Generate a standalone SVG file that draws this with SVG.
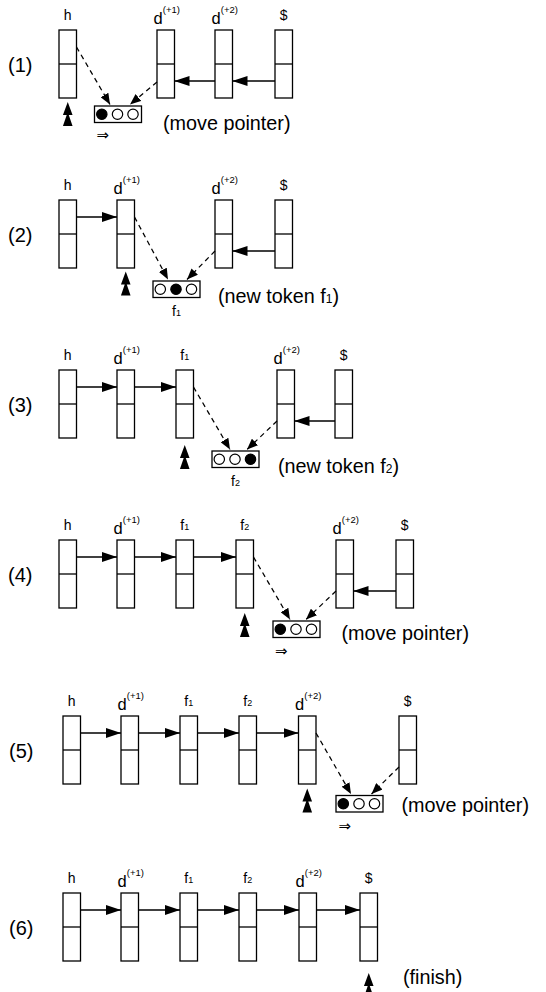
<svg xmlns="http://www.w3.org/2000/svg" width="546" height="992" viewBox="0 0 546 992">
<style>
.box{fill:#fff;stroke:#000;stroke-width:1.3}
.div{stroke:#000;stroke-width:1.3}
text{font-family:"Liberation Sans",Arial,sans-serif;fill:#000}
.lbl{font-size:14px}
.num{font-size:20px}
.ann{font-size:19.8px}
.arr{stroke:#000;stroke-width:1.3;fill:none;marker-end:url(#ah)}
.dash{stroke:#000;stroke-width:1.25;fill:none;stroke-dasharray:5 4;marker-end:url(#ahd)}
.tok{fill:#fff;stroke:#000;stroke-width:1.3}
.c{fill:#fff;stroke:#000;stroke-width:1.2}
.cf{fill:#000;stroke:#000;stroke-width:1.2}
.dbl{font-family:"DejaVu Sans",sans-serif;font-size:15px}
</style>
<defs>
<marker id="ah" markerUnits="userSpaceOnUse" markerWidth="15" markerHeight="10" refX="15" refY="5" orient="auto"><path d="M0,0 L15,5 L0,10 Z" fill="#000"/></marker>
<marker id="ahd" markerUnits="userSpaceOnUse" markerWidth="11" markerHeight="9" refX="11" refY="4.5" orient="auto"><path d="M0,0 L11,4.5 L0,9 Z" fill="#000"/></marker>
<path id="ptr" d="M0,0 L4.8,13 L-4.8,13 Z M0,10 L4.8,24 L-4.8,24 Z" fill="#000"/>
</defs>

<!-- Panel 1 -->
<g id="p1">
<text class="num" x="8" y="72">(1)</text>
<g id="p1-h"><rect class="box" x="59" y="30" width="17.5" height="68"/><line class="div" x1="59" y1="64" x2="76.5" y2="64"/><text class="lbl" x="67.75" y="20" text-anchor="middle">h</text></g>
<g id="p1-d1"><rect class="box" x="157" y="30" width="17.5" height="68"/><line class="div" x1="157" y1="64" x2="174.5" y2="64"/><text x="166.75" y="23.5" text-anchor="middle"><tspan font-size="16.5">d</tspan><tspan font-size="9.5" dy="-11">(+1)</tspan></text></g>
<g id="p1-d2"><rect class="box" x="215" y="30" width="17.5" height="68"/><line class="div" x1="215" y1="64" x2="232.5" y2="64"/><text x="224.75" y="23.5" text-anchor="middle"><tspan font-size="16.5">d</tspan><tspan font-size="9.5" dy="-11">(+2)</tspan></text></g>
<g id="p1-end"><rect class="box" x="275" y="30" width="17.5" height="68"/><line class="div" x1="275" y1="64" x2="292.5" y2="64"/><text class="lbl" x="283.75" y="20" text-anchor="middle">$</text></g>
<g id="p1-token"><rect class="tok" x="94.5" y="106" width="47" height="16.5"/><circle class="cf" cx="101.8" cy="114.25" r="5.2"/><circle class="c" cx="117.5" cy="114.25" r="5.2"/><circle class="c" cx="133" cy="114.25" r="5.2"/><text class="dbl" x="96.5" y="140">⇒</text></g>
<use href="#ptr" x="67.75" y="102"/>
<text class="ann" x="163" y="129.5">(move pointer)</text>
</g>

<!-- Panel 2 -->
<g id="p2">
<text class="num" x="8" y="242">(2)</text>
<g id="p2-h"><rect class="box" x="59" y="200" width="17.5" height="68"/><line class="div" x1="59" y1="234" x2="76.5" y2="234"/><text class="lbl" x="67.75" y="190" text-anchor="middle">h</text></g>
<g id="p2-d1"><rect class="box" x="117" y="200" width="17.5" height="68"/><line class="div" x1="117" y1="234" x2="134.5" y2="234"/><text x="126.75" y="193.5" text-anchor="middle"><tspan font-size="16.5">d</tspan><tspan font-size="9.5" dy="-11">(+1)</tspan></text></g>
<g id="p2-d2"><rect class="box" x="215" y="200" width="17.5" height="68"/><line class="div" x1="215" y1="234" x2="232.5" y2="234"/><text x="224.75" y="193.5" text-anchor="middle"><tspan font-size="16.5">d</tspan><tspan font-size="9.5" dy="-11">(+2)</tspan></text></g>
<g id="p2-end"><rect class="box" x="275" y="200" width="17.5" height="68"/><line class="div" x1="275" y1="234" x2="292.5" y2="234"/><text class="lbl" x="283.75" y="190" text-anchor="middle">$</text></g>
<g id="p2-token"><rect class="tok" x="153" y="281" width="47" height="16.5"/><circle class="c" cx="160.3" cy="289.25" r="5.2"/><circle class="cf" cx="176" cy="289.25" r="5.2"/><circle class="c" cx="191.5" cy="289.25" r="5.2"/><text class="lbl" x="176.5" y="316" text-anchor="middle">f<tspan font-size="9">1</tspan></text></g>
<use href="#ptr" x="125.75" y="271.5"/>
<text class="ann" x="218" y="302.5">(new token f<tspan font-size="12">1</tspan>)</text>
</g>

<!-- Panel 3 -->
<g id="p3">
<text class="num" x="8" y="412">(3)</text>
<g id="p3-h"><rect class="box" x="59" y="370" width="17.5" height="68"/><line class="div" x1="59" y1="404" x2="76.5" y2="404"/><text class="lbl" x="67.75" y="360" text-anchor="middle">h</text></g>
<g id="p3-d1"><rect class="box" x="117" y="370" width="17.5" height="68"/><line class="div" x1="117" y1="404" x2="134.5" y2="404"/><text x="126.75" y="363.5" text-anchor="middle"><tspan font-size="16.5">d</tspan><tspan font-size="9.5" dy="-11">(+1)</tspan></text></g>
<g id="p3-f1"><rect class="box" x="176" y="370" width="17.5" height="68"/><line class="div" x1="176" y1="404" x2="193.5" y2="404"/><text class="lbl" x="184.75" y="360" text-anchor="middle">f<tspan font-size="9">1</tspan></text></g>
<g id="p3-d2"><rect class="box" x="277" y="370" width="17.5" height="68"/><line class="div" x1="277" y1="404" x2="294.5" y2="404"/><text x="286.75" y="363.5" text-anchor="middle"><tspan font-size="16.5">d</tspan><tspan font-size="9.5" dy="-11">(+2)</tspan></text></g>
<g id="p3-end"><rect class="box" x="335" y="370" width="17.5" height="68"/><line class="div" x1="335" y1="404" x2="352.5" y2="404"/><text class="lbl" x="343.75" y="360" text-anchor="middle">$</text></g>
<g id="p3-token"><rect class="tok" x="212" y="451" width="47" height="16.5"/><circle class="c" cx="219.3" cy="459.25" r="5.2"/><circle class="c" cx="235" cy="459.25" r="5.2"/><circle class="cf" cx="250.5" cy="459.25" r="5.2"/><text class="lbl" x="235.5" y="486" text-anchor="middle">f<tspan font-size="9">2</tspan></text></g>
<use href="#ptr" x="184.75" y="445"/>
<text class="ann" x="278" y="472.5">(new token f<tspan font-size="12">2</tspan>)</text>
</g>

<!-- Panel 4 -->
<g id="p4">
<text class="num" x="8" y="582">(4)</text>
<g id="p4-h"><rect class="box" x="59" y="540" width="17.5" height="68"/><line class="div" x1="59" y1="574" x2="76.5" y2="574"/><text class="lbl" x="67.75" y="530" text-anchor="middle">h</text></g>
<g id="p4-d1"><rect class="box" x="117" y="540" width="17.5" height="68"/><line class="div" x1="117" y1="574" x2="134.5" y2="574"/><text x="126.75" y="533.5" text-anchor="middle"><tspan font-size="16.5">d</tspan><tspan font-size="9.5" dy="-11">(+1)</tspan></text></g>
<g id="p4-f1"><rect class="box" x="176" y="540" width="17.5" height="68"/><line class="div" x1="176" y1="574" x2="193.5" y2="574"/><text class="lbl" x="184.75" y="530" text-anchor="middle">f<tspan font-size="9">1</tspan></text></g>
<g id="p4-f2"><rect class="box" x="236" y="540" width="17.5" height="68"/><line class="div" x1="236" y1="574" x2="253.5" y2="574"/><text class="lbl" x="244.75" y="530" text-anchor="middle">f<tspan font-size="9">2</tspan></text></g>
<g id="p4-d2"><rect class="box" x="336" y="540" width="17.5" height="68"/><line class="div" x1="336" y1="574" x2="353.5" y2="574"/><text x="345.75" y="533.5" text-anchor="middle"><tspan font-size="16.5">d</tspan><tspan font-size="9.5" dy="-11">(+2)</tspan></text></g>
<g id="p4-end"><rect class="box" x="396" y="540" width="17.5" height="68"/><line class="div" x1="396" y1="574" x2="413.5" y2="574"/><text class="lbl" x="404.75" y="530" text-anchor="middle">$</text></g>
<g id="p4-token"><rect class="tok" x="273" y="621" width="47" height="16.5"/><circle class="cf" cx="280.3" cy="629.25" r="5.2"/><circle class="c" cx="296" cy="629.25" r="5.2"/><circle class="c" cx="311.5" cy="629.25" r="5.2"/><text class="dbl" x="275" y="656">⇒</text></g>
<use href="#ptr" x="244.75" y="613"/>
<text class="ann" x="341.5" y="639.5">(move pointer)</text>
</g>

<!-- Panel 5 -->
<g id="p5">
<text class="num" x="9" y="758">(5)</text>
<g id="p5-h"><rect class="box" x="63" y="716" width="17.5" height="68"/><line class="div" x1="63" y1="750" x2="80.5" y2="750"/><text class="lbl" x="71.75" y="706" text-anchor="middle">h</text></g>
<g id="p5-d1"><rect class="box" x="121" y="716" width="17.5" height="68"/><line class="div" x1="121" y1="750" x2="138.5" y2="750"/><text x="130.75" y="709.5" text-anchor="middle"><tspan font-size="16.5">d</tspan><tspan font-size="9.5" dy="-11">(+1)</tspan></text></g>
<g id="p5-f1"><rect class="box" x="180" y="716" width="17.5" height="68"/><line class="div" x1="180" y1="750" x2="197.5" y2="750"/><text class="lbl" x="188.75" y="706" text-anchor="middle">f<tspan font-size="9">1</tspan></text></g>
<g id="p5-f2"><rect class="box" x="239" y="716" width="17.5" height="68"/><line class="div" x1="239" y1="750" x2="256.5" y2="750"/><text class="lbl" x="247.75" y="706" text-anchor="middle">f<tspan font-size="9">2</tspan></text></g>
<g id="p5-d2"><rect class="box" x="298.5" y="716" width="17.5" height="68"/><line class="div" x1="298.5" y1="750" x2="316" y2="750"/><text x="308.25" y="709.5" text-anchor="middle"><tspan font-size="16.5">d</tspan><tspan font-size="9.5" dy="-11">(+2)</tspan></text></g>
<g id="p5-end"><rect class="box" x="399" y="716" width="17.5" height="68"/><line class="div" x1="399" y1="750" x2="416.5" y2="750"/><text class="lbl" x="407.75" y="706" text-anchor="middle">$</text></g>
<g id="p5-token"><rect class="tok" x="336" y="795.5" width="47" height="16.5"/><circle class="cf" cx="343.3" cy="803.75" r="5.2"/><circle class="c" cx="359" cy="803.75" r="5.2"/><circle class="c" cx="374.5" cy="803.75" r="5.2"/><text class="dbl" x="338.5" y="831">⇒</text></g>
<use href="#ptr" x="307.25" y="788.5"/>
<text class="ann" x="401.5" y="811.5">(move pointer)</text>
</g>

<!-- Panel 6 -->
<g id="p6">
<text class="num" x="9" y="935">(6)</text>
<g id="p6-h"><rect class="box" x="63" y="893" width="17.5" height="68"/><line class="div" x1="63" y1="927" x2="80.5" y2="927"/><text class="lbl" x="71.75" y="883" text-anchor="middle">h</text></g>
<g id="p6-d1"><rect class="box" x="121" y="893" width="17.5" height="68"/><line class="div" x1="121" y1="927" x2="138.5" y2="927"/><text x="130.75" y="886.5" text-anchor="middle"><tspan font-size="16.5">d</tspan><tspan font-size="9.5" dy="-11">(+1)</tspan></text></g>
<g id="p6-f1"><rect class="box" x="180" y="893" width="17.5" height="68"/><line class="div" x1="180" y1="927" x2="197.5" y2="927"/><text class="lbl" x="188.75" y="883" text-anchor="middle">f<tspan font-size="9">1</tspan></text></g>
<g id="p6-f2"><rect class="box" x="239" y="893" width="17.5" height="68"/><line class="div" x1="239" y1="927" x2="256.5" y2="927"/><text class="lbl" x="247.75" y="883" text-anchor="middle">f<tspan font-size="9">2</tspan></text></g>
<g id="p6-d2"><rect class="box" x="299" y="893" width="17.5" height="68"/><line class="div" x1="299" y1="927" x2="316.5" y2="927"/><text x="308.75" y="886.5" text-anchor="middle"><tspan font-size="16.5">d</tspan><tspan font-size="9.5" dy="-11">(+2)</tspan></text></g>
<g id="p6-end"><rect class="box" x="360" y="893" width="17.5" height="68"/><line class="div" x1="360" y1="927" x2="377.5" y2="927"/><text class="lbl" x="368.75" y="883" text-anchor="middle">$</text></g>
<use href="#ptr" x="368.75" y="973"/>
<text class="ann" x="403" y="983.5">(finish)</text>
</g>

<g id="connectors">
<!-- P1 -->
<line class="arr" x1="275" y1="81" x2="232.5" y2="81"/>
<line class="arr" x1="215" y1="81" x2="174.5" y2="81"/>
<line class="dash" x1="76.5" y1="47" x2="110" y2="104.5"/>
<line class="dash" x1="157" y1="82" x2="130" y2="104.5"/>
<!-- P2 -->
<line class="arr" x1="76.5" y1="217" x2="117" y2="217"/>
<line class="arr" x1="275" y1="251" x2="232.5" y2="251"/>
<line class="dash" x1="134.5" y1="217" x2="168" y2="279.5"/>
<line class="dash" x1="215" y1="251" x2="187" y2="279.5"/>
<!-- P3 -->
<line class="arr" x1="76.5" y1="387" x2="117" y2="387"/>
<line class="arr" x1="134.5" y1="387" x2="176" y2="387"/>
<line class="arr" x1="335" y1="421" x2="294.5" y2="421"/>
<line class="dash" x1="193.5" y1="387" x2="230" y2="449.5"/>
<line class="dash" x1="277" y1="421" x2="247" y2="449.5"/>
<!-- P4 -->
<line class="arr" x1="76.5" y1="557" x2="117" y2="557"/>
<line class="arr" x1="134.5" y1="557" x2="176" y2="557"/>
<line class="arr" x1="193.5" y1="557" x2="236" y2="557"/>
<line class="arr" x1="396" y1="591" x2="353.5" y2="591"/>
<line class="dash" x1="253.5" y1="557" x2="290" y2="619.5"/>
<line class="dash" x1="336" y1="591" x2="306" y2="619.5"/>
<!-- P5 -->
<line class="arr" x1="80.5" y1="733" x2="121" y2="733"/>
<line class="arr" x1="138.5" y1="733" x2="180" y2="733"/>
<line class="arr" x1="197.5" y1="733" x2="239" y2="733"/>
<line class="arr" x1="256.5" y1="733" x2="298.5" y2="733"/>
<line class="dash" x1="316" y1="733" x2="351" y2="794"/>
<line class="dash" x1="399" y1="767" x2="371.5" y2="794"/>
<!-- P6 -->
<line class="arr" x1="80.5" y1="910" x2="121" y2="910"/>
<line class="arr" x1="138.5" y1="910" x2="180" y2="910"/>
<line class="arr" x1="197.5" y1="910" x2="239" y2="910"/>
<line class="arr" x1="256.5" y1="910" x2="299" y2="910"/>
<line class="arr" x1="316.5" y1="910" x2="360" y2="910"/>
</g>
</svg>
